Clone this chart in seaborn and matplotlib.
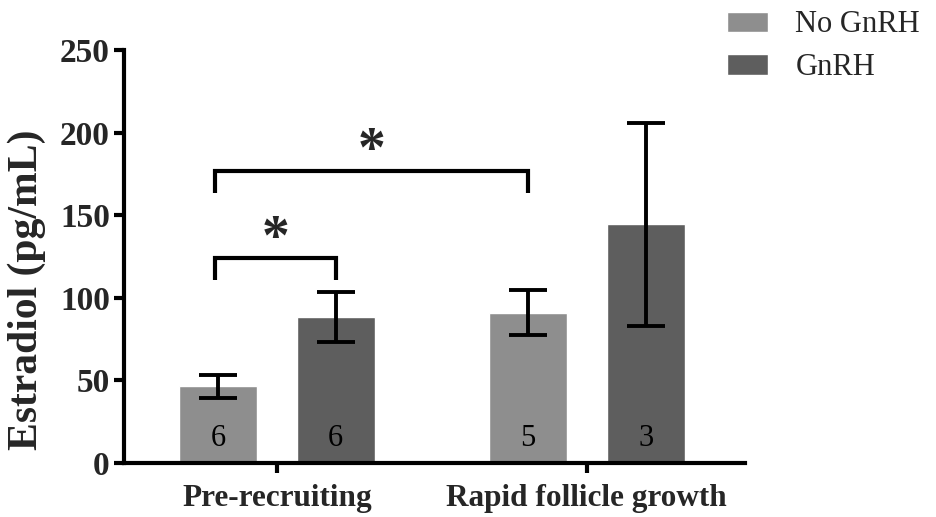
import matplotlib
matplotlib.use("Agg")
import matplotlib.pyplot as plt
import seaborn as sns
import pandas as pd

categories = ["Pre-recruiting", "Rapid follicle growth"]
groups = ["No GnRH", "GnRH"]
means_no = [46.5, 91.0]
means_yes = [88.5, 144.5]
sem_no = [7.0, 13.5]
sem_yes = [15.3, 61.5]
n_no = [6, 5]
n_yes = [6, 3]
colors = ["#8e8e8e", "#5e5e5e"]

sns.set_style("ticks")
plt.rcParams["font.family"] = ["Liberation Serif", "DejaVu Serif"]

df = pd.DataFrame({
    "cat": categories * 2,
    "grp": [groups[0]] * 2 + [groups[1]] * 2,
    "val": means_no + means_yes,
})
errs = sem_no + sem_yes
ns = n_no + n_yes

fig = plt.figure(figsize=(9.37, 5.17), dpi=100)
ax = fig.add_axes([0.132, 0.1044, 0.663, 0.799])
sns.barplot(data=df, x="cat", y="val", hue="grp", hue_order=groups,
            order=categories, palette=colors, errorbar=None, width=0.76,
            gap=0.337, saturation=1, ax=ax, legend=True)

# patches are hue-major: pre_no, rap_no, pre_yes, rap_yes
bars = [p for p in ax.patches if p.get_height() > 0][:4]
centers = []
for p, e, n in zip(bars, errs, ns):
    cx = p.get_x() + p.get_width() / 2
    h = p.get_height()
    centers.append(cx)
    ax.errorbar(cx, h, yerr=e, color="black", lw=2.8, capsize=14,
                capthick=2.8, zorder=5)
    ax.text(cx, 15, str(n), ha="center", va="center", fontsize=22,
            color="black", zorder=6)
pre_no, rap_no, pre_yes, rap_yes = centers


def bracket(x1, x2, y, leg, star_y):
    ax.plot([x1, x1, x2, x2], [y - leg, y, y, y - leg], color="black",
            lw=3, solid_capstyle="butt", solid_joinstyle="miter", clip_on=False)
    ax.text((x1 + x2) / 2, star_y, "*", ha="center", va="center",
            fontsize=40, fontweight="bold")


bracket(pre_no - 0.01, pre_yes, 124, 13.5, 135)
bracket(pre_no - 0.01, rap_no, 177, 13.5, 188)

ax.set_ylim(0, 250)
ax.set_xlim(-0.494, 1.51)
ax.set_yticks([0, 50, 100, 150, 200, 250])
ax.set_xlabel("")
ax.set_ylabel("Estradiol (pg/mL)", fontsize=30, fontweight="bold")
ax.yaxis.set_label_coords(-0.125, 0.42)
for lab in ax.get_yticklabels():
    lab.set_fontweight("bold")
    lab.set_fontsize(24)
for lab in ax.get_xticklabels():
    lab.set_fontweight("bold")
    lab.set_fontsize(22.5)
ax.tick_params(axis="both", width=3, length=7, color="black", pad=3)
ax.tick_params(axis="x", pad=8)
for s in ["left", "bottom"]:
    ax.spines[s].set_linewidth(3)
    ax.spines[s].set_color("black")
sns.despine(ax=ax)

leg = ax.get_legend()
handles = leg.legend_handles
leg.remove()
fig.legend(handles, groups, loc="upper left", bbox_to_anchor=(0.746, 1.033),
           frameon=False, fontsize=22, handlelength=1.35, handleheight=0.65,
           labelspacing=0.45, handletextpad=0.9)

fig.savefig("out.png", dpi=100)
